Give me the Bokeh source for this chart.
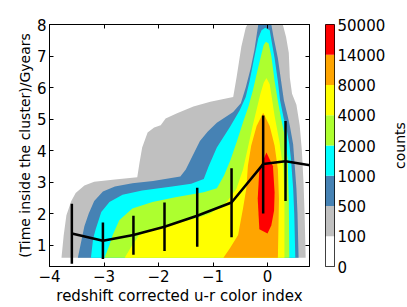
from bokeh.plotting import figure
from bokeh.models import Range1d, LinearAxis, FixedTicker, ColumnDataSource
from bokeh.layouts import row
from bokeh.embed import file_html
from bokeh.resources import INLINE

# ---- data -------------------------------------------------------------
count_levels = [0, 100, 500, 1000, 2000, 4000, 8000, 14000, 50000]
band_colors = ["#ffffff", "#c0c0c0", "#4682b4", "#00ffff", "#adff2f",
               "#ffff00", "#ffa500", "#ff0000"]

x_ticks = [-4, -3, -2, -1, 0]
x_tick_labels = ["\u22124", "\u22123", "\u22122", "\u22121", "0"]
y_ticks = [1, 2, 3, 4, 5, 6, 7, 8]

# filled-contour outlines (region where counts exceed each level)
c100_x = [-3.78, -3.74, -3.69, -3.6, -3.52, -3.36, -3.18, -2.8, -2.39, -2.35, -2.3, -2.2,
          -2.08, -1.96, -1.87, -1.66, -1.36, -1.05, -0.63, -0.57, -0.48, -0.4, -0.37,
          0.28, 0.34, 0.39, 0.41, 0.45, 0.53, 0.59, 0.63, 0.66, 0.68, 0.70]
c100_y = [0.6, 1.3, 1.95, 2.4, 2.65, 2.89, 3.01, 3.08, 3.15, 3.6, 4.1, 4.57,
          4.73, 4.8, 5.02, 5.18, 5.4, 5.55, 5.7, 6.3, 7.3, 7.9, 8.0,
          8.0, 7.6, 7.1, 6.3, 5.8, 5.45, 4.8, 4.0, 3.0, 2.0, 0.6]

c500_x = [-3.48, -3.42, -3.36, -3.28, -3.18, -3.02, -2.8, -2.48, -2.1, -1.6, -1.5, -1.42,
          -1.24, -1.1, -0.93, -0.63, -0.49, -0.4, -0.31, -0.24, -0.2, -0.17,
          0.07, 0.11, 0.19, 0.25, 0.3, 0.37, 0.41, 0.47, 0.49, 0.53, 0.55, 0.57]
c500_y = [0.6, 1.1, 1.6, 2.0, 2.4, 2.7, 2.86, 2.96, 3.03, 3.18, 3.4, 3.68,
          4.3, 4.6, 4.88, 5.22, 5.5, 6.0, 6.6, 7.2, 7.66, 8.0,
          8.0, 7.6, 6.93, 6.2, 5.6, 5.1, 4.78, 4.2, 3.73, 2.8, 2.0, 0.6]

c1000_x = [-3.24, -3.2, -3.15, -3.05, -2.9, -2.66, -2.3, -1.75, -1.4, -1.17, -1.08, -0.93,
           -0.69, -0.51, -0.4, -0.33, -0.25, -0.17, -0.11, -0.04,
           0.04, 0.13, 0.19, 0.23, 0.3, 0.34, 0.4, 0.43, 0.47, 0.49, 0.51]
c1000_y = [0.6, 1.2, 1.52, 2.05, 2.37, 2.6, 2.73, 2.86, 2.95, 3.1, 3.5, 4.1,
           4.75, 5.28, 5.7, 6.2, 6.9, 7.56, 7.82, 7.9,
           7.82, 6.93, 6.2, 5.6, 5.0, 4.78, 4.2, 3.73, 2.8, 2.0, 0.6]

c2000_x = [-2.99, -2.9, -2.84, -2.72, -2.48, -2.11, -1.69, -1.17, -0.93, -0.8, -0.68, -0.56,
           -0.45, -0.35, -0.27, -0.19, -0.12, -0.07, -0.03,
           0.02, 0.07, 0.13, 0.19, 0.25, 0.3, 0.35, 0.37, 0.39, 0.40]
c2000_y = [0.6, 1.0, 1.32, 1.79, 2.16, 2.37, 2.52, 2.68, 2.8, 3.2, 3.7, 4.3,
           4.9, 5.4, 5.9, 6.5, 7.0, 7.35, 7.45,
           7.4, 7.0, 6.2, 5.57, 5.0, 4.6, 4.0, 3.7, 2.5, 0.6]

c4000_x = [-2.62, -2.5, -2.36, -2.13, -1.69, -1.3, -1.05, -0.75, -0.57, -0.45, -0.36, -0.27,
           -0.2, -0.13, -0.07, -0.02,
           0.04, 0.07, 0.13, 0.22, 0.29, 0.31, 0.31]
c4000_y = [0.6, 0.95, 1.3, 1.52, 1.69, 1.85, 2.0, 2.37, 2.79, 3.4, 4.1, 4.8,
           5.3, 5.8, 6.15, 6.3,
           6.1, 5.78, 5.1, 4.26, 3.41, 2.47, 0.6]

c8000_x = [-0.81, -0.69, -0.54, -0.45, -0.39, -0.36, -0.3, -0.2, -0.08,
           0.04, 0.13, 0.19, 0.21, 0.19]
c8000_y = [0.6, 0.9, 1.32, 2.16, 2.79, 3.52, 4.15, 4.78, 5.2,
           4.78, 4.15, 3.41, 2.47, 0.6]

c14000_x = [-0.02, 0.1, 0.13, 0.12, 0.07, 0.0, -0.15, -0.18, -0.15]
c14000_y = [3.94, 3.5, 2.68, 2.1, 1.63, 1.37, 1.5, 2.47, 3.41]

# mean time vs colour with spread
mean_x = [-3.59, -3.02, -2.46, -1.89, -1.29, -0.66, -0.08, 0.33, 0.92]
mean_y = [1.37, 1.14, 1.32, 1.58, 1.93, 2.35, 3.57, 3.66, 3.49]
err_lo = [0.41, 0.56, 0.69, 0.81, 0.95, 1.25, 2.0, 2.4, 2.3]
err_hi = [2.31, 1.72, 1.93, 2.35, 2.82, 3.44, 5.11, 4.94, 4.7]

FONT = "DejaVu Sans"
FS = "15px"
H = 307
TOP, BOTTOM = 24, 39
P_W, CB_W, CNT_W = 319, 69, 19


def style_axis(ax):
    ax.major_tick_in = 4
    ax.major_tick_out = 0
    ax.minor_tick_line_color = None
    ax.major_label_text_font = FONT
    ax.major_label_text_font_size = FS
    ax.major_label_text_color = "black"
    ax.axis_line_color = "black"
    ax.major_tick_line_color = "black"


# ---- main plot ----------------------------------------------------------
p = figure(width=P_W, height=H,
           x_range=Range1d(-4, 0.77), y_range=Range1d(0.32, 8.0),
           min_border_left=49, min_border_top=TOP, min_border_right=10,
           min_border_bottom=BOTTOM,
           output_backend="svg", toolbar_location=None)
p.grid.visible = False
p.outline_line_color = "black"
p.background_fill_color = "white"
p.border_fill_color = "white"

contours = [(c100_x, c100_y), (c500_x, c500_y), (c1000_x, c1000_y), (c2000_x, c2000_y),
            (c4000_x, c4000_y), (c8000_x, c8000_y), (c14000_x, c14000_y)]
for i, (cx, cy) in enumerate(contours):
    p.patch(cx, cy, fill_color=band_colors[i + 1], line_color=None)

src = ColumnDataSource(dict(x=mean_x, y=mean_y, lo=err_lo, hi=err_hi))
p.segment(x0="x", y0="lo", x1="x", y1="hi", source=src, line_color="black", line_width=2.5)
p.line(x="x", y="y", source=src, line_color="black", line_width=2.5)

for ax in p.xaxis:
    ax.ticker = FixedTicker(ticks=x_ticks)
    ax.major_label_overrides = dict(zip(x_ticks, x_tick_labels))
    style_axis(ax)
    ax.major_label_standoff = 3
    ax.axis_label = "redshift corrected u-r color index"
    ax.axis_label_text_font = FONT
    ax.axis_label_text_font_size = "15px"
    ax.axis_label_text_font_style = "normal"
    ax.axis_label_text_color = "black"
    ax.axis_label_standoff = 2
for ax in p.yaxis:
    ax.ticker = FixedTicker(ticks=y_ticks)
    style_axis(ax)
    ax.major_label_standoff = 3
    ax.axis_label = "(Time inside the cluster)/Gyears"
    ax.axis_label_text_font = FONT
    ax.axis_label_text_font_size = "14px"
    ax.axis_label_text_font_style = "normal"
    ax.axis_label_text_color = "black"
    ax.axis_label_standoff = 1

for side, ticks in (("above", x_ticks), ("right", y_ticks)):
    ax = LinearAxis(ticker=FixedTicker(ticks=ticks), major_label_text_font_size="1px",
                    major_label_text_color=None, major_label_standoff=0,
                    major_tick_in=4, major_tick_out=0,
                    minor_tick_line_color=None, axis_line_color="black")
    p.add_layout(ax, side)

# ---- colour bar -------------------------------------------------------------
band_pos = list(range(len(count_levels)))
cb = figure(width=CB_W, height=H, x_range=Range1d(0, 1),
            y_range=Range1d(band_pos[0], band_pos[-1]),
            min_border_left=6, min_border_right=CB_W - 18, min_border_top=TOP,
            min_border_bottom=BOTTOM, x_axis_location=None, y_axis_location="right",
            output_backend="svg", toolbar_location=None)
cb.grid.visible = False
cb.outline_line_color = "black"
cb.quad(left=0, right=1, bottom=band_pos[:-1], top=band_pos[1:],
        fill_color=band_colors, line_color=None)
for ax in cb.yaxis:
    ax.ticker = FixedTicker(ticks=band_pos)
    ax.major_label_overrides = {bp: str(v) for bp, v in zip(band_pos, count_levels)}
    ax.major_tick_line_color = None
    ax.minor_tick_line_color = None
    ax.axis_line_color = None
    ax.major_tick_in = 0
    ax.major_tick_out = 0
    ax.major_label_standoff = 3
    ax.major_label_text_font = FONT
    ax.major_label_text_font_size = FS
    ax.major_label_text_color = "black"

# ---- "counts" title strip (reads bottom to top like a left axis label) -------
cnt = figure(width=CNT_W, height=H, x_range=Range1d(0, 1),
             y_range=Range1d(0, 1), min_border_left=0, min_border_right=0,
             min_border_top=TOP, min_border_bottom=BOTTOM,
             x_axis_location=None, y_axis_location="left",
             output_backend="svg", toolbar_location=None)
cnt.grid.visible = False
cnt.outline_line_color = None
for ax in cnt.yaxis:
    ax.ticker = FixedTicker(ticks=[])
    ax.major_label_text_color = None
    ax.major_label_text_font_size = "1px"
    ax.major_label_standoff = 0
    ax.major_tick_line_color = None
    ax.minor_tick_line_color = None
    ax.major_tick_in = 0
    ax.major_tick_out = 0
    ax.axis_line_color = None
    ax.axis_label = "counts"
    ax.axis_label_text_font = FONT
    ax.axis_label_text_font_size = "14px"
    ax.axis_label_text_font_style = "normal"
    ax.axis_label_text_color = "black"
    ax.axis_label_standoff = 0

layout = row(p, cb, cnt)
open("out.html", "w").write(file_html(layout, INLINE))
